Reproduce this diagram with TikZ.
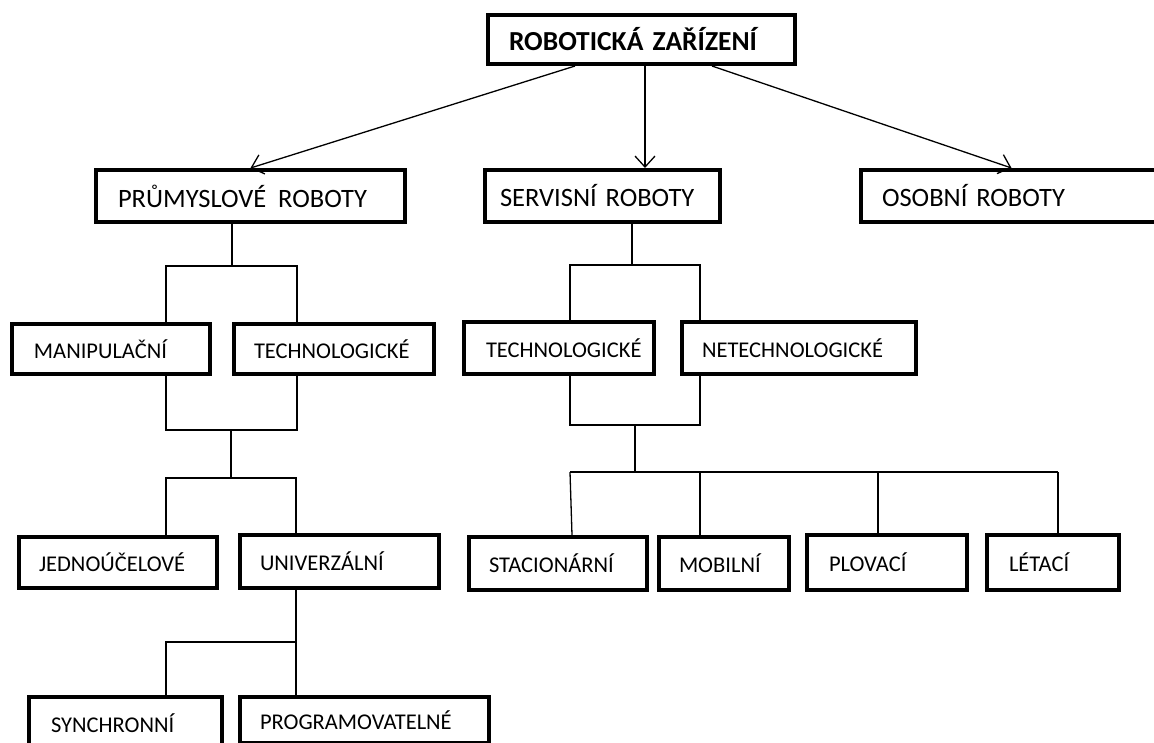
\documentclass[tikz,border=0pt]{standalone}
\usepackage{fontspec}
\setmainfont{Carlito}
\usetikzlibrary{arrows.meta,positioning}

\begin{document}
\begin{tikzpicture}[
    x=1pt, y=-1pt,
    every node/.style={align=left},
    catbox/.style={rectangle, draw=black, line width=4pt, anchor=north west, inner xsep=20pt, inner ysep=0pt, font=\fontsize{22.5}{26}\selectfont},
    mainbox/.style={catbox, minimum height=52pt, font=\fontsize{26.5}{30}\selectfont},
    topbox/.style={catbox, font=\fontsize{27.5}{32}\selectfont\bfseries},
    link/.style={line width=1.3pt},
    arrow/.style={line width=1.3pt, -{Straight Barb[length=11pt,width=20pt]}}
]
\clip (0,0) rectangle (1154,742);
\fill[white] (0,0) rectangle (1154,742);

% Top level
\node[topbox, text width=265pt, inner xsep=21pt, minimum height=49pt] (robot) at (486,13) {ROBOTICKÁ ZAŘÍZENÍ};

% Robot groups
\node[mainbox, text width=265pt, inner xsep=22pt] (prum) at (94,168) {PRŮMYSLOVÉ\hspace{3pt} ROBOTY};
\node[mainbox, text width=205pt, inner xsep=15pt] (serv) at (483,168) {SERVISNÍ ROBOTY};
\node[mainbox, text width=259pt, inner xsep=21pt] (osob) at (859,168) {OSOBNÍ ROBOTY};

% Industrial branch
\node[catbox, text width=154pt, inner xsep=22pt, minimum height=50pt] (manip) at (10,322) {MANIPULAČNÍ};
\node[catbox, text width=160pt, minimum height=50pt] (techL) at (232,322) {TECHNOLOGICKÉ};
\node[catbox, text width=158pt, minimum height=51pt] (jedn) at (17,535) {JEDNOÚČELOVÉ};
\node[catbox, text width=159pt, minimum height=53pt] (univ) at (238,533) {UNIVERZÁLNÍ};
\node[catbox, text width=149pt, inner xsep=22pt, minimum height=52pt] (sync) at (27,695) {SYNCHRONNÍ};
\node[catbox, text width=209pt, minimum height=46pt] (prog) at (238,695) {PROGRAMOVATELNÉ};

% Service branch
\node[catbox, text width=146pt, inner xsep=22pt, minimum height=52pt] (techR) at (462,320) {TECHNOLOGICKÉ};
\node[catbox, text width=194pt, minimum height=52pt] (netech) at (680,320) {NETECHNOLOGICKÉ};
\node[catbox, text width=138pt, minimum height=53pt] (stac) at (467,535) {STACIONÁRNÍ};
\node[catbox, text width=90pt, minimum height=53pt] (mob) at (657,535) {MOBILNÍ};
\node[catbox, text width=116pt, inner xsep=22pt, minimum height=55pt] (plov) at (805,533) {PLOVACÍ};
\node[catbox, text width=88pt, inner xsep=22pt, minimum height=55pt] (let) at (985,533) {LÉTACÍ};

% Arrows from the top
\draw[arrow] ([xshift=89pt]robot.south west) -- (prum.north);
\draw[arrow] ([xshift=159pt]robot.south west) -- ([xshift=159pt]robot.south west |- serv.north);
\draw[arrow] ([xshift=226pt]robot.south west) -- (osob.north);

% Industrial connections
\coordinate (pj) at (232,266);
\coordinate (pl) at (166,266);
\coordinate (pr) at (297,266);
\draw[link] (prum.south -| pj) -- (pj);
\draw[link] (manip.north -| pl) -- (pl) -- (pr) -- (techL.north -| pr);
\coordinate (ml) at (166,430);
\coordinate (mr) at (297,430);
\coordinate (mj) at (231,430);
\coordinate (kj) at (231,478);
\coordinate (kl) at (166,478);
\coordinate (kr) at (296,478);
\draw[link] (manip.south -| ml) -- (ml) -- (mr) -- (techL.south -| mr);
\draw[link] (mj) -- (kj);
\draw[link] (jedn.north -| kl) -- (kl) -- (kr) -- (univ.north -| kr);
\coordinate (uj) at (296,642);
\coordinate (ul) at (166,642);
\draw[link] (univ.south -| uj) -- (prog.north -| uj);
\draw[link] (uj) -- (ul) -- (sync.north -| ul);

% Service connections
\coordinate (sj) at (632,265);
\coordinate (sl) at (570,265);
\coordinate (sr) at (700,265);
\draw[link] (serv.south -| sj) -- (sj);
\draw[link] (techR.north -| sl) -- (sl) -- (sr) -- (netech.north -| sr);
\coordinate (nl) at (570,425);
\coordinate (nr) at (700,425);
\coordinate (nj) at (635,425);
\coordinate (bj) at (635,472);
\coordinate (bl) at (570,472);
\coordinate (b2) at (700,472);
\coordinate (b3) at (878,472);
\coordinate (br) at (1058,472);
\draw[link] (techR.south -| nl) -- (nl) -- (nr) -- (netech.south -| nr);
\draw[link] (nj) -- (bj);
\draw[link] (bl) -- (br);
\draw[link] (bl) -- ([xshift=2pt]stac.north -| bl);
\draw[link] (b2) -- (mob.north -| b2);
\draw[link] (b3) -- (plov.north -| b3);
\draw[link] (br) -- (let.north -| br);

\end{tikzpicture}
\end{document}
